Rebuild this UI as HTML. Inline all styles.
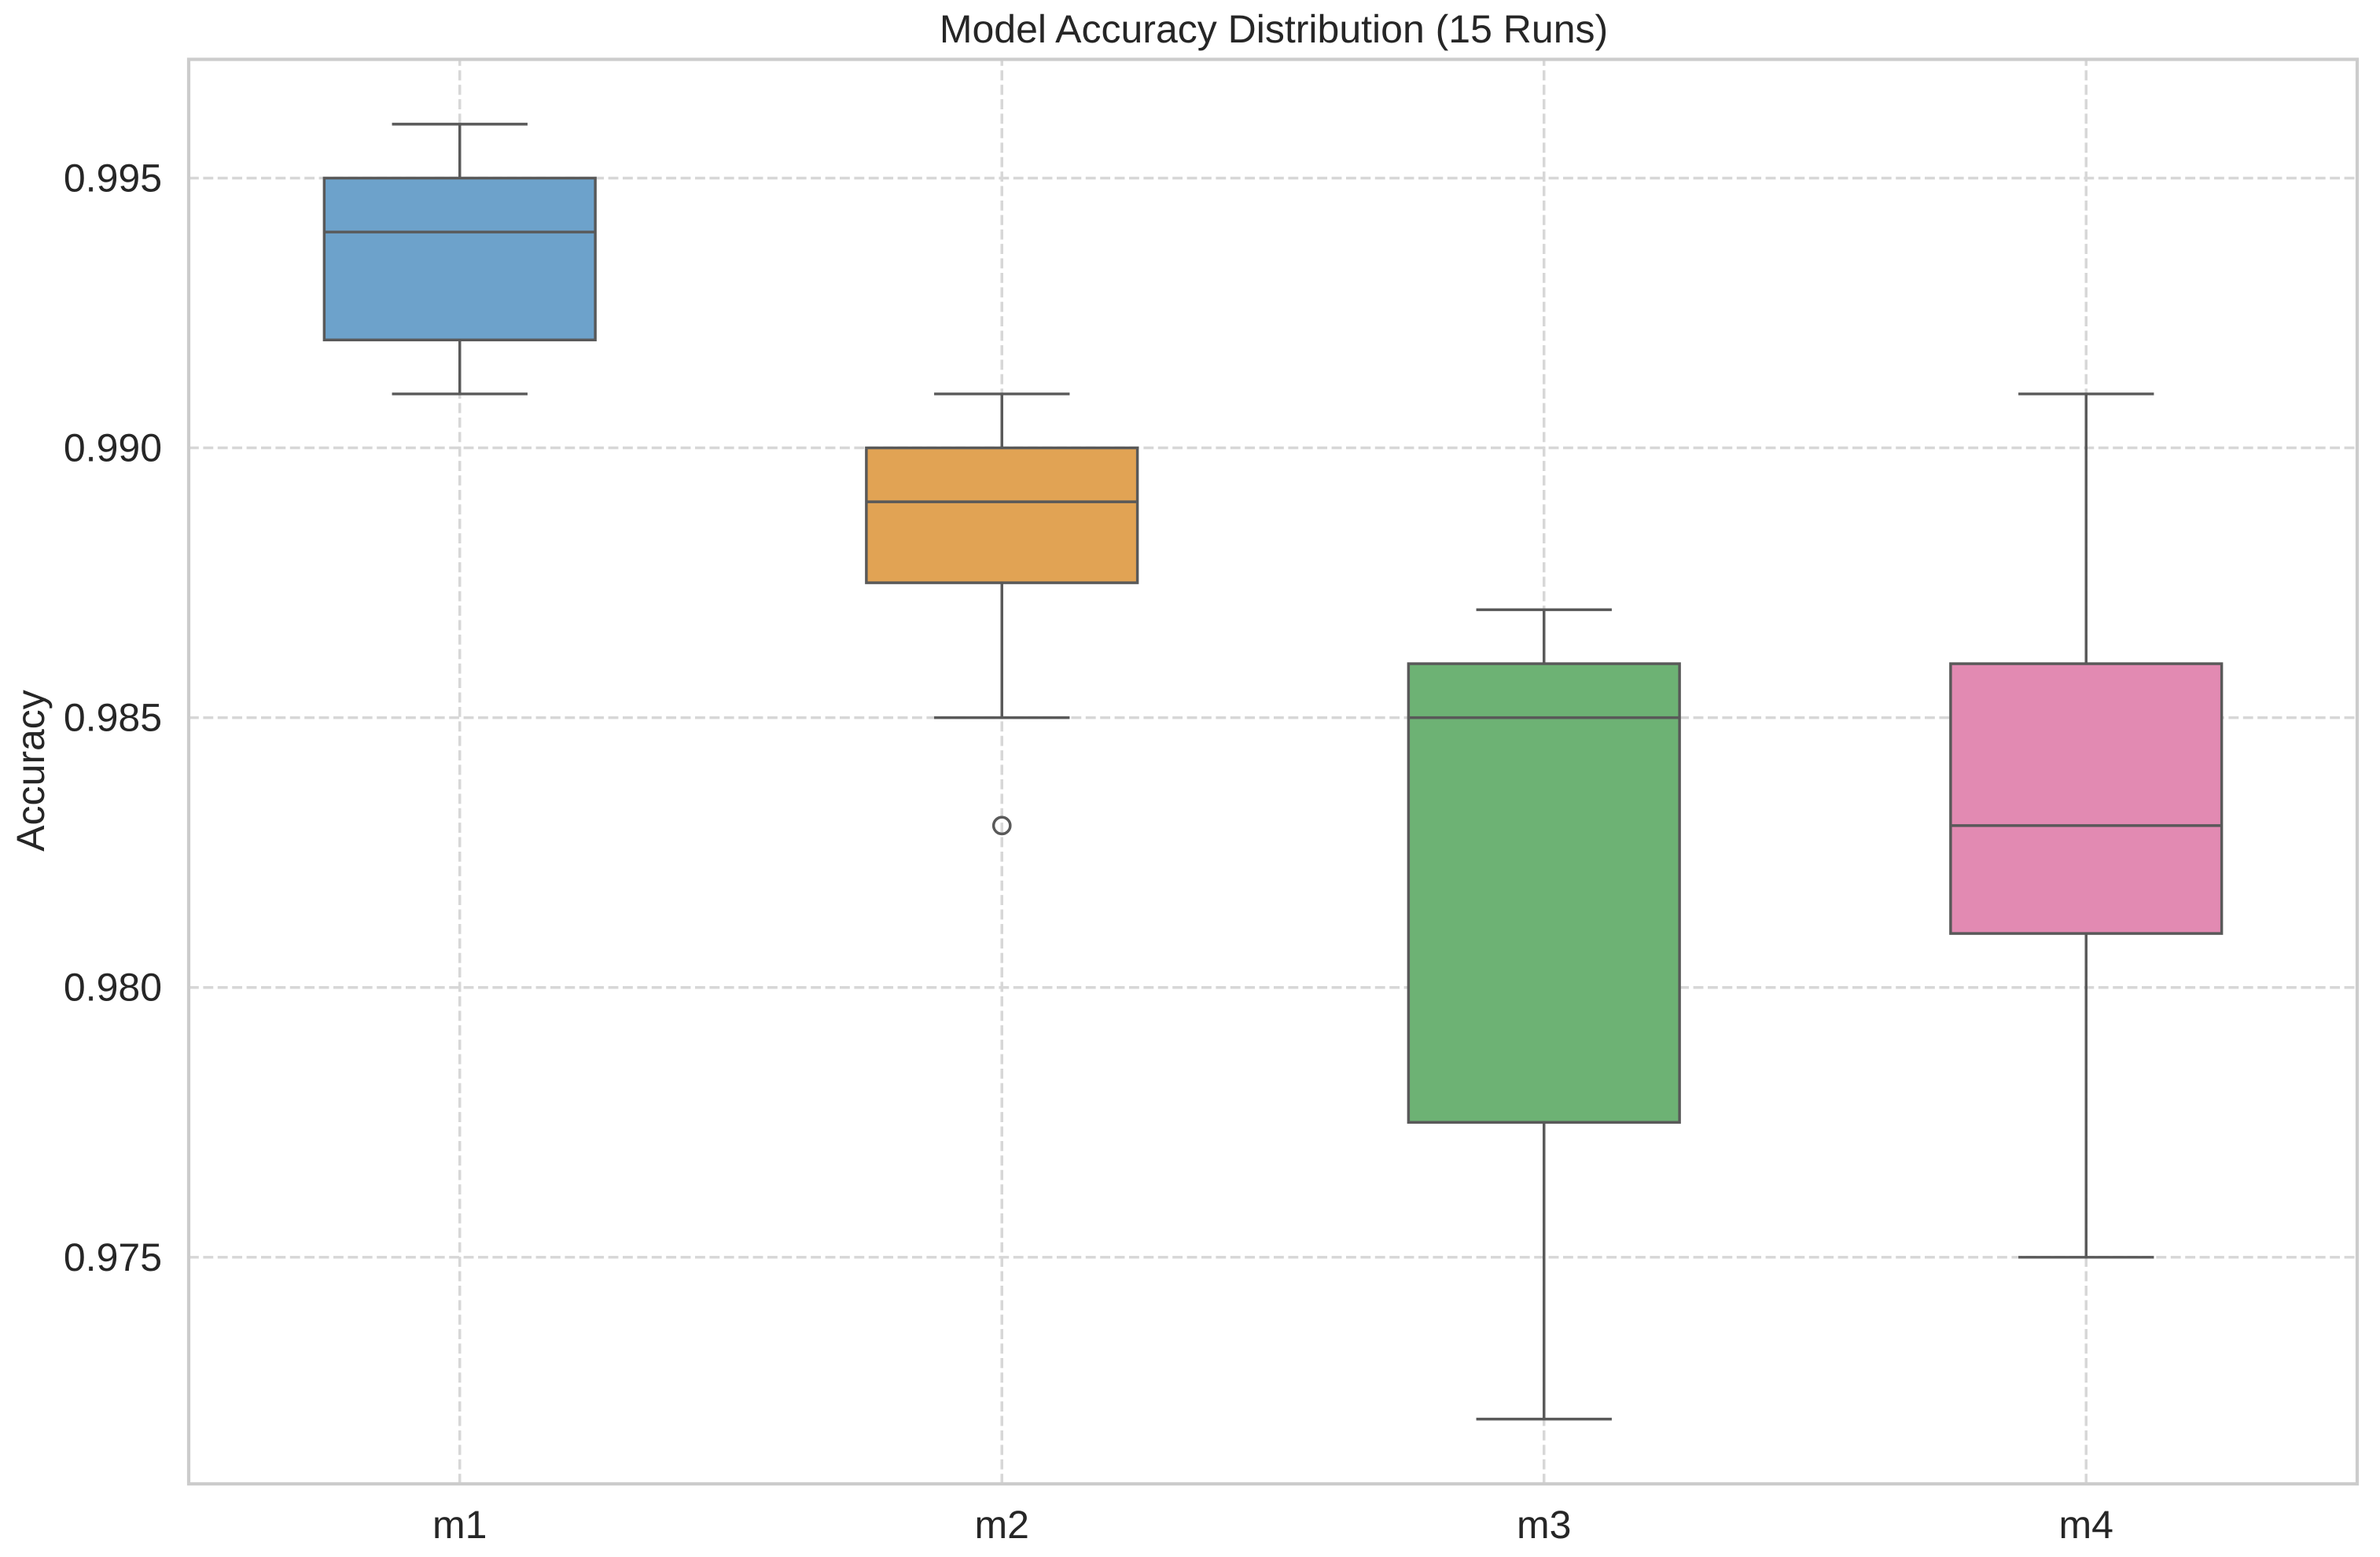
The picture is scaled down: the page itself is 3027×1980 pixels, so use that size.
<!DOCTYPE html>
<html lang="en">
<head>
<meta charset="utf-8">
<title>Model Accuracy Distribution (15 Runs)</title>
<style>
  html, body { margin: 0; padding: 0; background: #ffffff; }
  body { width: 3027px; height: 1980px; overflow: hidden; }
  svg { display: block; }
  text { font-family: "Liberation Sans", Arial, sans-serif; fill: #262626; font-size: 50px; text-rendering: geometricPrecision; }
</style>
</head>
<body>
<svg id="chart" xmlns="http://www.w3.org/2000/svg" width="3027" height="1980" viewBox="0 0 3027 1980">
  <rect x="0" y="0" width="3027" height="1980" fill="#ffffff"/>
  <g id="grid"></g>
  <g id="boxes"></g>
  <rect x="240" y="75.5" width="2758" height="1811.5" fill="none" stroke="#cccccc" stroke-width="4.2"/>
  <g id="xticks"></g>
  <g id="yticks"></g>
  <text x="1620" y="54" text-anchor="middle">Model Accuracy Distribution (15 Runs)</text>
  <text x="56" y="980" text-anchor="middle" transform="rotate(-90 56 980)">Accuracy</text>
</svg>
<script>
const categories = ['m1', 'm2', 'm3', 'm4'];
const q1Values = [0.992, 0.9875, 0.9775, 0.981];
const medianValues = [0.994, 0.989, 0.985, 0.983];
const q3Values = [0.995, 0.99, 0.986, 0.986];
const whiskerLowValues = [0.991, 0.985, 0.972, 0.975];
const whiskerHighValues = [0.996, 0.991, 0.987, 0.991];
const outlierValues = [[], [0.983], [], []];
const boxColors = ['#6da2cb', '#e1a354', '#6db274', '#e28ab2'];
const yTickValues = [0.975, 0.98, 0.985, 0.99, 0.995];
const yTickLabels = ['0.975', '0.980', '0.985', '0.990', '0.995'];

const NS = 'http://www.w3.org/2000/svg';
const plotLeft = 240, plotRight = 2998, plotTop = 75.5, plotBottom = 1887;
const yDomainMin = 0.9708, yDomainMax = 0.9972;
const lineColor = '#595959', lineWidth = 3.47;

function xScale(i) {
  return plotLeft + (i + 0.5) * (plotRight - plotLeft) / categories.length;
}
function yScale(v) {
  return plotBottom - (v - yDomainMin) * (plotBottom - plotTop) / (yDomainMax - yDomainMin);
}
function make(tag, attrs, parent) {
  const el = document.createElementNS(NS, tag);
  for (const k in attrs) el.setAttribute(k, attrs[k]);
  parent.appendChild(el);
  return el;
}
function darkLine(parent, x1, y1, x2, y2) {
  return make('line', { x1: x1, y1: y1, x2: x2, y2: y2, stroke: lineColor, 'stroke-width': lineWidth }, parent);
}

const gridGroup = document.getElementById('grid');
const boxesGroup = document.getElementById('boxes');
const xTickGroup = document.getElementById('xticks');
const yTickGroup = document.getElementById('yticks');
const gridStyle = { stroke: '#d7d7d7', 'stroke-width': 3.47, 'stroke-dasharray': '12.85 5.55' };

yTickValues.forEach(function (v, i) {
  const y = yScale(v);
  const line = make('line', Object.assign({ x1: plotLeft, y1: y, x2: plotRight, y2: y }, gridStyle), gridGroup);
  
  
  const label = make('text', { x: 206, y: y + 17, 'text-anchor': 'end' }, yTickGroup);
  label.textContent = yTickLabels[i];
  
  
});

categories.forEach(function (name, i) {
  const cx = xScale(i);
  const slot = (plotRight - plotLeft) / categories.length;
  const halfBox = slot * 0.25;
  const halfCap = slot * 0.125;

  const gridLine = make('line', Object.assign({ x1: cx, y1: plotBottom, x2: cx, y2: plotTop }, gridStyle), gridGroup);
  
  

  const g = make('g', {}, boxesGroup);
  
  

  const lowerWhisker = darkLine(g, cx, yScale(q1Values[i]), cx, yScale(whiskerLowValues[i]));
  
  

  const upperWhisker = darkLine(g, cx, yScale(q3Values[i]), cx, yScale(whiskerHighValues[i]));
  
  

  const lowerCap = darkLine(g, cx - halfCap, yScale(whiskerLowValues[i]), cx + halfCap, yScale(whiskerLowValues[i]));
  
  

  const upperCap = darkLine(g, cx - halfCap, yScale(whiskerHighValues[i]), cx + halfCap, yScale(whiskerHighValues[i]));
  
  

  const box = make('rect', {
    x: cx - halfBox,
    y: yScale(q3Values[i]),
    width: halfBox * 2,
    height: yScale(q1Values[i]) - yScale(q3Values[i]),
    fill: boxColors[i],
    stroke: lineColor,
    'stroke-width': lineWidth
  }, g);
  
  

  const median = darkLine(g, cx - halfBox, yScale(medianValues[i]), cx + halfBox, yScale(medianValues[i]));
  
  

  outlierValues[i].forEach(function (v) {
    const dot = make('circle', { cx: cx, cy: yScale(v), r: 10.6, fill: 'none', stroke: lineColor, 'stroke-width': lineWidth }, g);
    
    
  });

  const label = make('text', { x: cx, y: 1956, 'text-anchor': 'middle' }, xTickGroup);
  label.textContent = name;
  
  
});
</script>
</body>
</html>
